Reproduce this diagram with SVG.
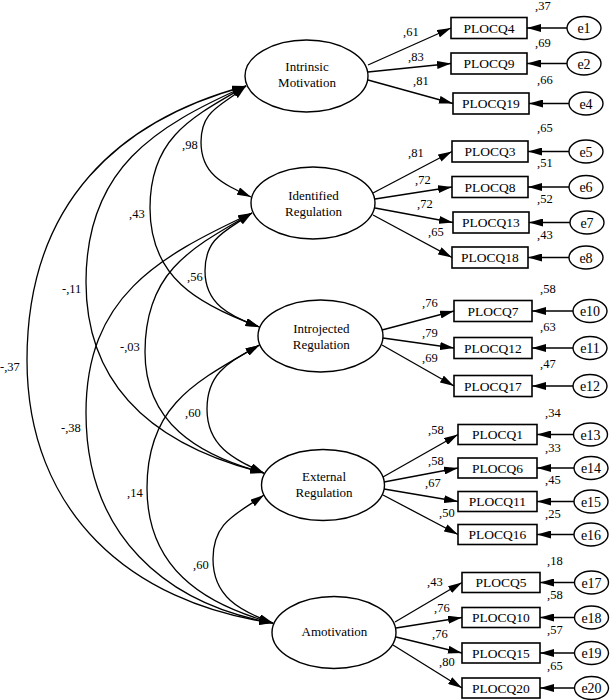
<svg xmlns="http://www.w3.org/2000/svg" width="610" height="700" viewBox="0 0 610 700">
<defs>
<marker id="ah" viewBox="0 0 14 8" refX="14" refY="4" markerWidth="14" markerHeight="8" markerUnits="userSpaceOnUse" orient="auto-start-reverse">
<path d="M0,0 L14,4 L0,8 z" fill="#000"/>
</marker>
<style>
text{font-family:"Liberation Serif","Times New Roman",serif;fill:#000}
.lat{fill:#fff;stroke:#000;stroke-width:1.4}
.obs{fill:#fff;stroke:#000;stroke-width:1.6}
.err{fill:#fff;stroke:#000;stroke-width:1.4}
.lt{font-size:13px;text-anchor:middle}
.ot{font-size:13.5px;text-anchor:middle}
.et{font-size:14px;text-anchor:middle}
.num{font-size:12.5px}
.one{fill:none;stroke:#000;stroke-width:1.3;marker-end:url(#ah)}
.two{fill:none;stroke:#000;stroke-width:1.3;marker-start:url(#ah);marker-end:url(#ah)}
</style>
</defs>
<rect width="610" height="700" fill="#fff"/>

<g id="intrinsic"><ellipse class="lat" cx="306.5" cy="76" rx="61.5" ry="36"/><text class="lt" x="307" y="71">Intrinsic</text><text class="lt" x="307" y="87">Motivation</text></g>
<g id="identified"><ellipse class="lat" cx="313" cy="203" rx="62" ry="36"/><text class="lt" x="313.5" y="199.5">Identified</text><text class="lt" x="313.5" y="215.5">Regulation</text></g>
<g id="introjected"><ellipse class="lat" cx="320.5" cy="336" rx="62.5" ry="36"/><text class="lt" x="321.3" y="332.5">Introjected</text><text class="lt" x="321.3" y="348.5">Regulation</text></g>
<g id="external"><ellipse class="lat" cx="323" cy="485" rx="61.5" ry="35.5"/><text class="lt" x="324" y="481">External</text><text class="lt" x="324" y="497">Regulation</text></g>
<g id="amotivation"><ellipse class="lat" cx="334" cy="632.5" rx="62" ry="36"/><text class="lt" x="334.4" y="636">Amotivation</text></g>

<g id="PLOCQ4"><rect class="obs" x="451" y="17.5" width="76" height="21"/><text class="ot" x="489" y="32.7">PLOCQ4</text></g>
<g id="PLOCQ9"><rect class="obs" x="451" y="53" width="76" height="21"/><text class="ot" x="489" y="68.2">PLOCQ9</text></g>
<g id="PLOCQ19"><rect class="obs" x="453" y="93" width="76" height="21"/><text class="ot" x="491" y="108.2">PLOCQ19</text></g>
<g id="PLOCQ3"><rect class="obs" x="452" y="141" width="76" height="21"/><text class="ot" x="490" y="156.2">PLOCQ3</text></g>
<g id="PLOCQ8"><rect class="obs" x="452" y="176.5" width="76" height="21"/><text class="ot" x="490" y="191.7">PLOCQ8</text></g>
<g id="PLOCQ13"><rect class="obs" x="453" y="212" width="76" height="21"/><text class="ot" x="491" y="227.2">PLOCQ13</text></g>
<g id="PLOCQ18"><rect class="obs" x="452" y="247" width="76" height="21"/><text class="ot" x="490" y="262.2">PLOCQ18</text></g>
<g id="PLOCQ7"><rect class="obs" x="454" y="300.5" width="78" height="21"/><text class="ot" x="493" y="315.7">PLOCQ7</text></g>
<g id="PLOCQ12"><rect class="obs" x="454" y="337.5" width="78" height="21"/><text class="ot" x="493" y="352.7">PLOCQ12</text></g>
<g id="PLOCQ17"><rect class="obs" x="454" y="375.5" width="78" height="21"/><text class="ot" x="493" y="390.7">PLOCQ17</text></g>
<g id="PLOCQ1"><rect class="obs" x="458" y="424.5" width="79" height="20"/><text class="ot" x="497.5" y="439.2">PLOCQ1</text></g>
<g id="PLOCQ6"><rect class="obs" x="458" y="458" width="79" height="20"/><text class="ot" x="497.5" y="472.7">PLOCQ6</text></g>
<g id="PLOCQ11"><rect class="obs" x="458" y="491.5" width="79" height="20"/><text class="ot" x="497.5" y="506.2">PLOCQ11</text></g>
<g id="PLOCQ16"><rect class="obs" x="458" y="524.5" width="79" height="20"/><text class="ot" x="497.5" y="539.2">PLOCQ16</text></g>
<g id="PLOCQ5"><rect class="obs" x="462" y="572.5" width="78" height="20"/><text class="ot" x="501" y="587.2">PLOCQ5</text></g>
<g id="PLOCQ10"><rect class="obs" x="462" y="607.5" width="78" height="20"/><text class="ot" x="501" y="622.2">PLOCQ10</text></g>
<g id="PLOCQ15"><rect class="obs" x="462" y="643" width="78" height="20"/><text class="ot" x="501" y="657.7">PLOCQ15</text></g>
<g id="PLOCQ20"><rect class="obs" x="462" y="678" width="78" height="20"/><text class="ot" x="501" y="692.7">PLOCQ20</text></g>

<g id="e1"><ellipse class="err" cx="584" cy="28" rx="17" ry="11.5"/><text class="et" x="584" y="33">e1</text></g>
<g id="e2"><ellipse class="err" cx="584" cy="63.5" rx="17" ry="11.5"/><text class="et" x="584" y="68.5">e2</text></g>
<g id="e4"><ellipse class="err" cx="586" cy="103.5" rx="17" ry="11.5"/><text class="et" x="586" y="108.5">e4</text></g>
<g id="e5"><ellipse class="err" cx="586" cy="151.5" rx="17" ry="11.5"/><text class="et" x="586" y="156.5">e5</text></g>
<g id="e6"><ellipse class="err" cx="586" cy="187" rx="17" ry="11.5"/><text class="et" x="586" y="192">e6</text></g>
<g id="e7"><ellipse class="err" cx="587" cy="222.5" rx="17" ry="11.5"/><text class="et" x="587" y="227.5">e7</text></g>
<g id="e8"><ellipse class="err" cx="586" cy="257.5" rx="17" ry="11.5"/><text class="et" x="586" y="262.5">e8</text></g>
<g id="e10"><ellipse class="err" cx="590" cy="311" rx="17" ry="11.5"/><text class="et" x="590" y="316">e10</text></g>
<g id="e11"><ellipse class="err" cx="590" cy="348" rx="17" ry="11.5"/><text class="et" x="590" y="353">e11</text></g>
<g id="e12"><ellipse class="err" cx="590" cy="386" rx="17" ry="11.5"/><text class="et" x="590" y="391">e12</text></g>
<g id="e13"><ellipse class="err" cx="590.5" cy="434.5" rx="17" ry="11.5"/><text class="et" x="590.5" y="439.5">e13</text></g>
<g id="e14"><ellipse class="err" cx="591" cy="468" rx="17" ry="11.5"/><text class="et" x="591" y="473">e14</text></g>
<g id="e15"><ellipse class="err" cx="591" cy="501.5" rx="17" ry="11.5"/><text class="et" x="591" y="506.5">e15</text></g>
<g id="e16"><ellipse class="err" cx="591" cy="534.5" rx="17" ry="11.5"/><text class="et" x="591" y="539.5">e16</text></g>
<g id="e17"><ellipse class="err" cx="591.5" cy="582.5" rx="17" ry="11.5"/><text class="et" x="591.5" y="587.5">e17</text></g>
<g id="e18"><ellipse class="err" cx="591.5" cy="617.5" rx="17" ry="11.5"/><text class="et" x="591.5" y="622.5">e18</text></g>
<g id="e19"><ellipse class="err" cx="591.5" cy="653" rx="17" ry="11.5"/><text class="et" x="591.5" y="658">e19</text></g>
<g id="e20"><ellipse class="err" cx="591.5" cy="688" rx="17" ry="11.5"/><text class="et" x="591.5" y="693">e20</text></g>

<g id="connectors">
<g id="loadings">
<path class="one" d="M368,65 L451,28"/>
<path class="one" d="M368,72 L451,63.5"/>
<path class="one" d="M368,80 L453,103.5"/>
<path class="one" d="M373,193 L452,151.5"/>
<path class="one" d="M375,199 L452,187"/>
<path class="one" d="M375,208 L453,222.5"/>
<path class="one" d="M373,215 L452,257.5"/>
<path class="one" d="M382,330 L454,311"/>
<path class="one" d="M383,338 L454,348"/>
<path class="one" d="M382,345 L454,386"/>
<path class="one" d="M383,477 L458,434.5"/>
<path class="one" d="M384,482 L458,468"/>
<path class="one" d="M384,489 L458,501.5"/>
<path class="one" d="M383,495 L458,534.5"/>
<path class="one" d="M395,622 L462,582.5"/>
<path class="one" d="M396,628 L462,617.5"/>
<path class="one" d="M396,637 L462,653"/>
<path class="one" d="M393,645 L462,688"/>
</g>
<g id="errors">
<path class="one" d="M567,28 L527,28"/>
<path class="one" d="M567,63.5 L527,63.5"/>
<path class="one" d="M569,103.5 L529,103.5"/>
<path class="one" d="M569,151.5 L528,151.5"/>
<path class="one" d="M569,187 L528,187"/>
<path class="one" d="M570,222.5 L529,222.5"/>
<path class="one" d="M569,257.5 L528,257.5"/>
<path class="one" d="M573,311 L532,311"/>
<path class="one" d="M573,348 L532,348"/>
<path class="one" d="M573,386 L532,386"/>
<path class="one" d="M573.5,434.5 L537,434.5"/>
<path class="one" d="M574,468 L537,468"/>
<path class="one" d="M574,501.5 L537,501.5"/>
<path class="one" d="M574,534.5 L537,534.5"/>
<path class="one" d="M574.5,582.5 L540,582.5"/>
<path class="one" d="M574.5,617.5 L540,617.5"/>
<path class="one" d="M574.5,653 L540,653"/>
<path class="one" d="M574.5,688 L540,688"/>
</g>
<g id="covariances">
<path class="two" d="M246,86 C221.6,106.5 201,109.5 201,142 C201,173.9 222,183.5 251,197"/>
<path class="two" d="M246,86 C192.1,117.1 150,137.2 150,208 C150,277 196.9,304.2 259.5,327"/>
<path class="two" d="M246,86 C154.9,126.5 86,168.3 86,282 C86,392.8 162.5,447.7 264,473"/>
<path class="two" d="M246,86 C120.7,119.6 27,201.1 27,360 C27,512.5 130.9,603 273,623"/>
<path class="two" d="M252,213 C225.9,231.3 205,237.4 205,271 C205,303.5 228.8,315.8 259.5,327"/>
<path class="two" d="M252,213 C191.1,248.1 145,271.4 145,352 C145,422.2 196.7,455 264,473"/>
<path class="two" d="M252,213 C156.9,257.3 86,297 86,413 C86,534.8 165.1,604 273,623"/>
<path class="two" d="M259.5,345 C229.9,362.1 207,371.9 207,409 C207,446.1 232.7,458.4 264,473"/>
<path class="two" d="M259.5,345 C195.1,382.2 147,405.1 147,488 C147,566.3 200.5,603.6 273,623"/>
<path class="two" d="M264,495 C236.2,514.5 213,521.9 213,559 C213,596.1 238.8,610.5 273,623"/>
</g>
</g>

<g id="labels" class="num">
<text x="403" y="36">,61</text>
<text x="408" y="61">,83</text>
<text x="413" y="85">,81</text>
<text x="408" y="157">,81</text>
<text x="415" y="184">,72</text>
<text x="417" y="208">,72</text>
<text x="428" y="236">,65</text>
<text x="422" y="307">,76</text>
<text x="422" y="337">,79</text>
<text x="422" y="362">,69</text>
<text x="428" y="434">,58</text>
<text x="428" y="465">,58</text>
<text x="425" y="487">,67</text>
<text x="439" y="517">,50</text>
<text x="427" y="586">,43</text>
<text x="434" y="612">,76</text>
<text x="432" y="638">,76</text>
<text x="439" y="666">,80</text>
<text x="535" y="9.5">,37</text>
<text x="535" y="47">,69</text>
<text x="537" y="84">,66</text>
<text x="537" y="132">,65</text>
<text x="537" y="167">,51</text>
<text x="537" y="203">,52</text>
<text x="537" y="239">,43</text>
<text x="540" y="293">,58</text>
<text x="540" y="331">,63</text>
<text x="540" y="368">,47</text>
<text x="545" y="417">,34</text>
<text x="545" y="452">,33</text>
<text x="545" y="484">,45</text>
<text x="545" y="518">,25</text>
<text x="547" y="565">,18</text>
<text x="547" y="599">,58</text>
<text x="547" y="634">,57</text>
<text x="547" y="670">,65</text>
<text x="182" y="149">,98</text>
<text x="129" y="218">,43</text>
<text x="187" y="281">,56</text>
<text x="62" y="293">-,11</text>
<text x="120" y="351">-,03</text>
<text x="0" y="371">-,37</text>
<text x="185" y="417">,60</text>
<text x="61" y="432">-,38</text>
<text x="127" y="497">,14</text>
<text x="193" y="569">,60</text>
</g>
</svg>
